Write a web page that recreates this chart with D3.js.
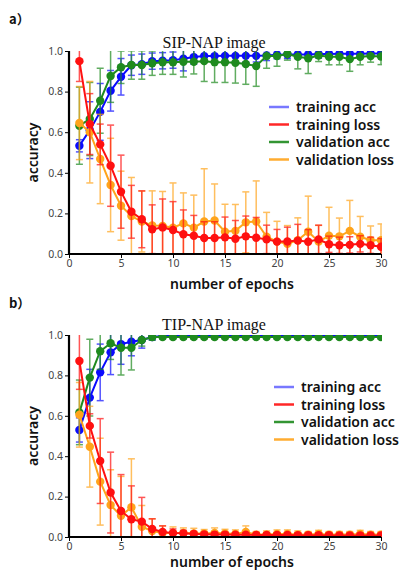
<!DOCTYPE html>
<html>
<head>
<meta charset="utf-8">
<script src="https://cdn.jsdelivr.net/npm/d3@7"></script>
<style>
html,body{margin:0;padding:0;background:#fff;}
svg{display:block;}
</style>
</head>
<body>
<svg id="chart" width="402" height="570"></svg>
<script>
// ---------- data ----------
const epochs = [1,2,3,4,5,6,7,8,9,10,11,12,13,14,15,16,17,18,19,20,21,22,23,24,25,26,27,28,29,30];
const xTicks = [0,5,10,15,20,25,30];
const yTicks = [0.0,0.2,0.4,0.6,0.8,1.0];
const seriesNames = ["training acc","training loss","validation acc","validation loss"];
const panelTitles = ["SIP-NAP image","TIP-NAP image"];
const panelLabels = ["a）","b）"];

// panel a (SIP-NAP)
const aTrainAcc    = [0.533,0.61,0.70,0.804,0.873,0.93,0.935,0.95,0.952,0.955,0.962,0.97,0.975,0.975,0.976,0.976,0.976,0.976,0.978,0.982,0.983,0.983,0.983,0.985,0.985,0.986,0.986,0.986,0.988,0.988];
const aTrainAccErr = [0.03,0.14,0.14,0.10,0.09,0.05,0.05,0.04,0.04,0.04,0.06,0.035,0.03,0.03,0.03,0.03,0.03,0.03,0.025,0.02,0.02,0.02,0.02,0.02,0.015,0.015,0.015,0.015,0.015,0.015];
const aTrainLoss    = [0.95,0.64,0.54,0.435,0.307,0.208,0.171,0.122,0.131,0.118,0.097,0.09,0.079,0.079,0.082,0.075,0.087,0.08,0.072,0.061,0.062,0.066,0.06,0.072,0.048,0.043,0.045,0.05,0.043,0.036];
const aTrainLossErr = [0.1,0.15,0.1,0.2,0.18,0.13,0.14,0.12,0.14,0.14,0.12,0.1,0.08,0.08,0.1,0.09,0.1,0.1,0.07,0.06,0.07,0.08,0.06,0.07,0.04,0.04,0.04,0.04,0.04,0.04];
const aValAcc    = [0.632,0.665,0.755,0.877,0.92,0.931,0.931,0.94,0.945,0.945,0.947,0.947,0.95,0.945,0.945,0.942,0.936,0.926,0.975,0.975,0.985,0.972,0.964,0.978,0.972,0.972,0.96,0.972,0.975,0.973];
const aValAccErr = [0.19,0.18,0.16,0.13,0.08,0.07,0.07,0.06,0.06,0.06,0.075,0.06,0.1,0.1,0.1,0.1,0.1,0.1,0.06,0.05,0.03,0.06,0.075,0.03,0.04,0.04,0.06,0.04,0.03,0.04];
const aValLoss    = [0.645,0.60,0.468,0.34,0.238,0.187,0.16,0.141,0.138,0.13,0.151,0.13,0.16,0.165,0.11,0.114,0.156,0.16,0.085,0.061,0.05,0.068,0.11,0.061,0.09,0.087,0.114,0.085,0.068,0.068];
const aValLossErr = [0.18,0.25,0.22,0.23,0.17,0.19,0.15,0.17,0.17,0.22,0.15,0.16,0.26,0.18,0.135,0.13,0.15,0.2,0.12,0.1,0.09,0.11,0.175,0.08,0.14,0.09,0.15,0.1,0.07,0.08];

// panel b (TIP-NAP)
const bTrainAcc    = [0.53,0.69,0.815,0.914,0.955,0.967,0.975,0.99,0.995,0.997,0.997,0.997,0.997,0.997,0.997,0.997,0.997,0.997,0.997,0.997,0.997,0.997,0.997,0.997,0.997,0.997,0.997,0.997,0.997,0.997];
const bTrainAccErr = [0.06,0.14,0.14,0.11,0.1,0.07,0.04,0.015,0.01,0.005,0.005,0.005,0.005,0.005,0.005,0.005,0.005,0.005,0.005,0.005,0.005,0.005,0.005,0.005,0.005,0.005,0.005,0.005,0.005,0.005];
const bTrainLoss    = [0.871,0.55,0.376,0.22,0.129,0.088,0.076,0.04,0.025,0.02,0.018,0.015,0.013,0.012,0.012,0.011,0.011,0.01,0.01,0.01,0.01,0.009,0.009,0.009,0.009,0.008,0.008,0.008,0.008,0.008];
const bTrainLossErr = [0.14,0.06,0.21,0.2,0.18,0.165,0.12,0.05,0.03,0.02,0.015,0.012,0.01,0.01,0.01,0.01,0.01,0.01,0.01,0.01,0.01,0.01,0.01,0.01,0.01,0.01,0.01,0.01,0.01,0.01];
const bValAcc    = [0.617,0.789,0.92,0.959,0.937,0.937,0.975,0.99,0.99,0.99,0.99,0.99,0.99,0.99,0.99,0.99,0.99,0.99,0.99,0.99,0.99,0.99,0.99,0.99,0.99,0.99,0.99,0.99,0.99,0.99];
const bValAccErr = [0.16,0.19,0.09,0.08,0.135,0.11,0.03,0.015,0.01,0.01,0.01,0.01,0.01,0.01,0.01,0.01,0.01,0.01,0.01,0.01,0.01,0.01,0.01,0.01,0.01,0.01,0.01,0.01,0.01,0.01];
const bValLoss    = [0.605,0.447,0.274,0.158,0.105,0.147,0.051,0.03,0.02,0.02,0.02,0.018,0.017,0.02,0.018,0.015,0.025,0.012,0.012,0.015,0.015,0.012,0.012,0.015,0.012,0.012,0.012,0.015,0.012,0.012];
const bValLossErr = [0.16,0.2,0.215,0.175,0.195,0.24,0.105,0.06,0.035,0.03,0.025,0.025,0.02,0.025,0.02,0.02,0.03,0.015,0.018,0.02,0.02,0.018,0.015,0.018,0.015,0.015,0.015,0.018,0.015,0.015];

// ---------- styling ----------
const colors = {"training acc":"#0a0aff","training loss":"#ff1010","validation acc":"#1e8a1e","validation loss":"#ffa41b"};
const drawOrder = ["training acc","validation acc","validation loss","training loss"];

const panels = [
  {label:panelLabels[0], title:panelTitles[0], top:51, bottom:254, labelY:24, titleY:48, xLabelY:289,
   legendX:269, legendY:107,
   data:{"training acc":[aTrainAcc,aTrainAccErr],"training loss":[aTrainLoss,aTrainLossErr],
         "validation acc":[aValAcc,aValAccErr],"validation loss":[aValLoss,aValLossErr]}},
  {label:panelLabels[1], title:panelTitles[1], top:335, bottom:537, labelY:308, titleY:330, xLabelY:567,
   legendX:274, legendY:387,
   data:{"training acc":[bTrainAcc,bTrainAccErr],"training loss":[bTrainLoss,bTrainLossErr],
         "validation acc":[bValAcc,bValAccErr],"validation loss":[bValLoss,bValLossErr]}}
];

const svg = d3.select("#chart");
const left = 69, right = 381;
const sansFont = "'Noto Sans', 'DejaVu Sans', sans-serif";

panels.forEach((p, pi) => {
  const x = d3.scaleLinear().domain([0,30]).range([left,right]);
  const y = d3.scaleLinear().domain([0,1]).range([p.bottom,p.top]);
  const g = svg.append("g");

  const clipId = "clip" + pi;
  svg.append("clipPath").attr("id", clipId).append("rect")
    .attr("x", left).attr("y", p.top).attr("width", right-left+1).attr("height", p.bottom-p.top);

  // panel label
  svg.append("text").attr("x", 9).attr("y", p.labelY)
    .attr("font-family", "'Noto Sans CJK JP', 'Noto Sans', sans-serif")
    .attr("font-size", 13).attr("font-weight", 600).attr("fill", "#111").text(p.label);

  // title
  g.append("text").attr("x", 214).attr("y", p.titleY).attr("text-anchor","middle")
    .attr("font-family", "'Liberation Serif', 'DejaVu Serif', serif")
    .attr("font-size", 16).attr("fill", "#111").text(p.title);

  const plot = g.append("g").attr("clip-path", `url(#${clipId})`);

  drawOrder.forEach(name => {
    const [vals, errs] = p.data[name];
    const col = colors[name];
    const pts = epochs.map((e,i) => ({e, v: vals[i], err: errs[i]}));
    const sg = plot.append("g");
    // error bars
    const eb = sg.append("g").attr("stroke", col).attr("stroke-width", 1.5).attr("opacity", 0.7);
    pts.forEach(d => {
      const cx = x(d.e), y1 = y(d.v + d.err), y2 = y(d.v - d.err);
      eb.append("line").attr("x1", cx).attr("x2", cx).attr("y1", y1).attr("y2", y2);
      eb.append("line").attr("x1", cx-3.5).attr("x2", cx+3.5).attr("y1", y1).attr("y2", y1);
      eb.append("line").attr("x1", cx-3.5).attr("x2", cx+3.5).attr("y1", y2).attr("y2", y2);
    });
    // line
    sg.append("path").datum(pts)
      .attr("fill","none").attr("stroke", col).attr("stroke-width", 2)
      .attr("d", d3.line().x(d => x(d.e)).y(d => y(d.v)));
    // markers
    sg.selectAll("circle").data(pts).join("circle")
      .attr("cx", d => x(d.e)).attr("cy", d => y(d.v)).attr("r", 4.2).attr("fill", col);
  });

  // axes
  const yAxis = d3.axisLeft(y).tickValues(yTicks).tickFormat(d3.format(".1f")).tickSize(4).tickPadding(2);
  const yg = g.append("g").attr("transform", `translate(${left},0)`).call(yAxis);
  const xAxis = d3.axisBottom(x).tickValues(xTicks).tickFormat(d3.format("d")).tickSize(4).tickPadding(2);
  const xg = g.append("g").attr("transform", `translate(0,${p.bottom})`).call(xAxis);
  [yg, xg].forEach(ax => {
    ax.select(".domain").attr("stroke", "#000").attr("stroke-width", 2.2);
    ax.selectAll(".tick line").attr("stroke", "#000").attr("stroke-width", 1);
    ax.selectAll(".tick text").attr("font-family", sansFont).attr("font-size", 10.5).attr("fill", "#444");
  });
  yg.select(".domain").attr("d", `M0,${p.top}V${p.bottom}`);
  xg.select(".domain").attr("d", `M${left},0H${right}`);

  // axis labels
  g.append("text").attr("x", 232).attr("y", p.xLabelY).attr("text-anchor","middle")
    .attr("font-family", sansFont).attr("font-size", 14).attr("font-weight", 600).attr("fill", "#111")
    .text("number of epochs");
  g.append("text").attr("transform", `translate(38,${(p.top+p.bottom)/2}) rotate(-90)`)
    .attr("text-anchor","middle")
    .attr("font-family", sansFont).attr("font-size", 14).attr("font-weight", 600).attr("fill", "#111")
    .text("accuracy");

  // legend
  const lg = g.append("g");
  seriesNames.forEach((name, i) => {
    const ly = p.legendY + i * 17.5;
    lg.append("line").attr("x1", p.legendX).attr("x2", p.legendX + 20).attr("y1", ly).attr("y2", ly)
      .attr("stroke", colors[name]).attr("stroke-width", 2.5).attr("opacity", name === "training acc" ? 0.55 : 0.9);
    lg.append("text").attr("x", p.legendX + 27).attr("y", ly + 5)
      .attr("font-family", sansFont).attr("font-size", 14).attr("font-weight", 600).attr("fill", "#111")
      .text(name);
  });
});
</script>
</body>
</html>
